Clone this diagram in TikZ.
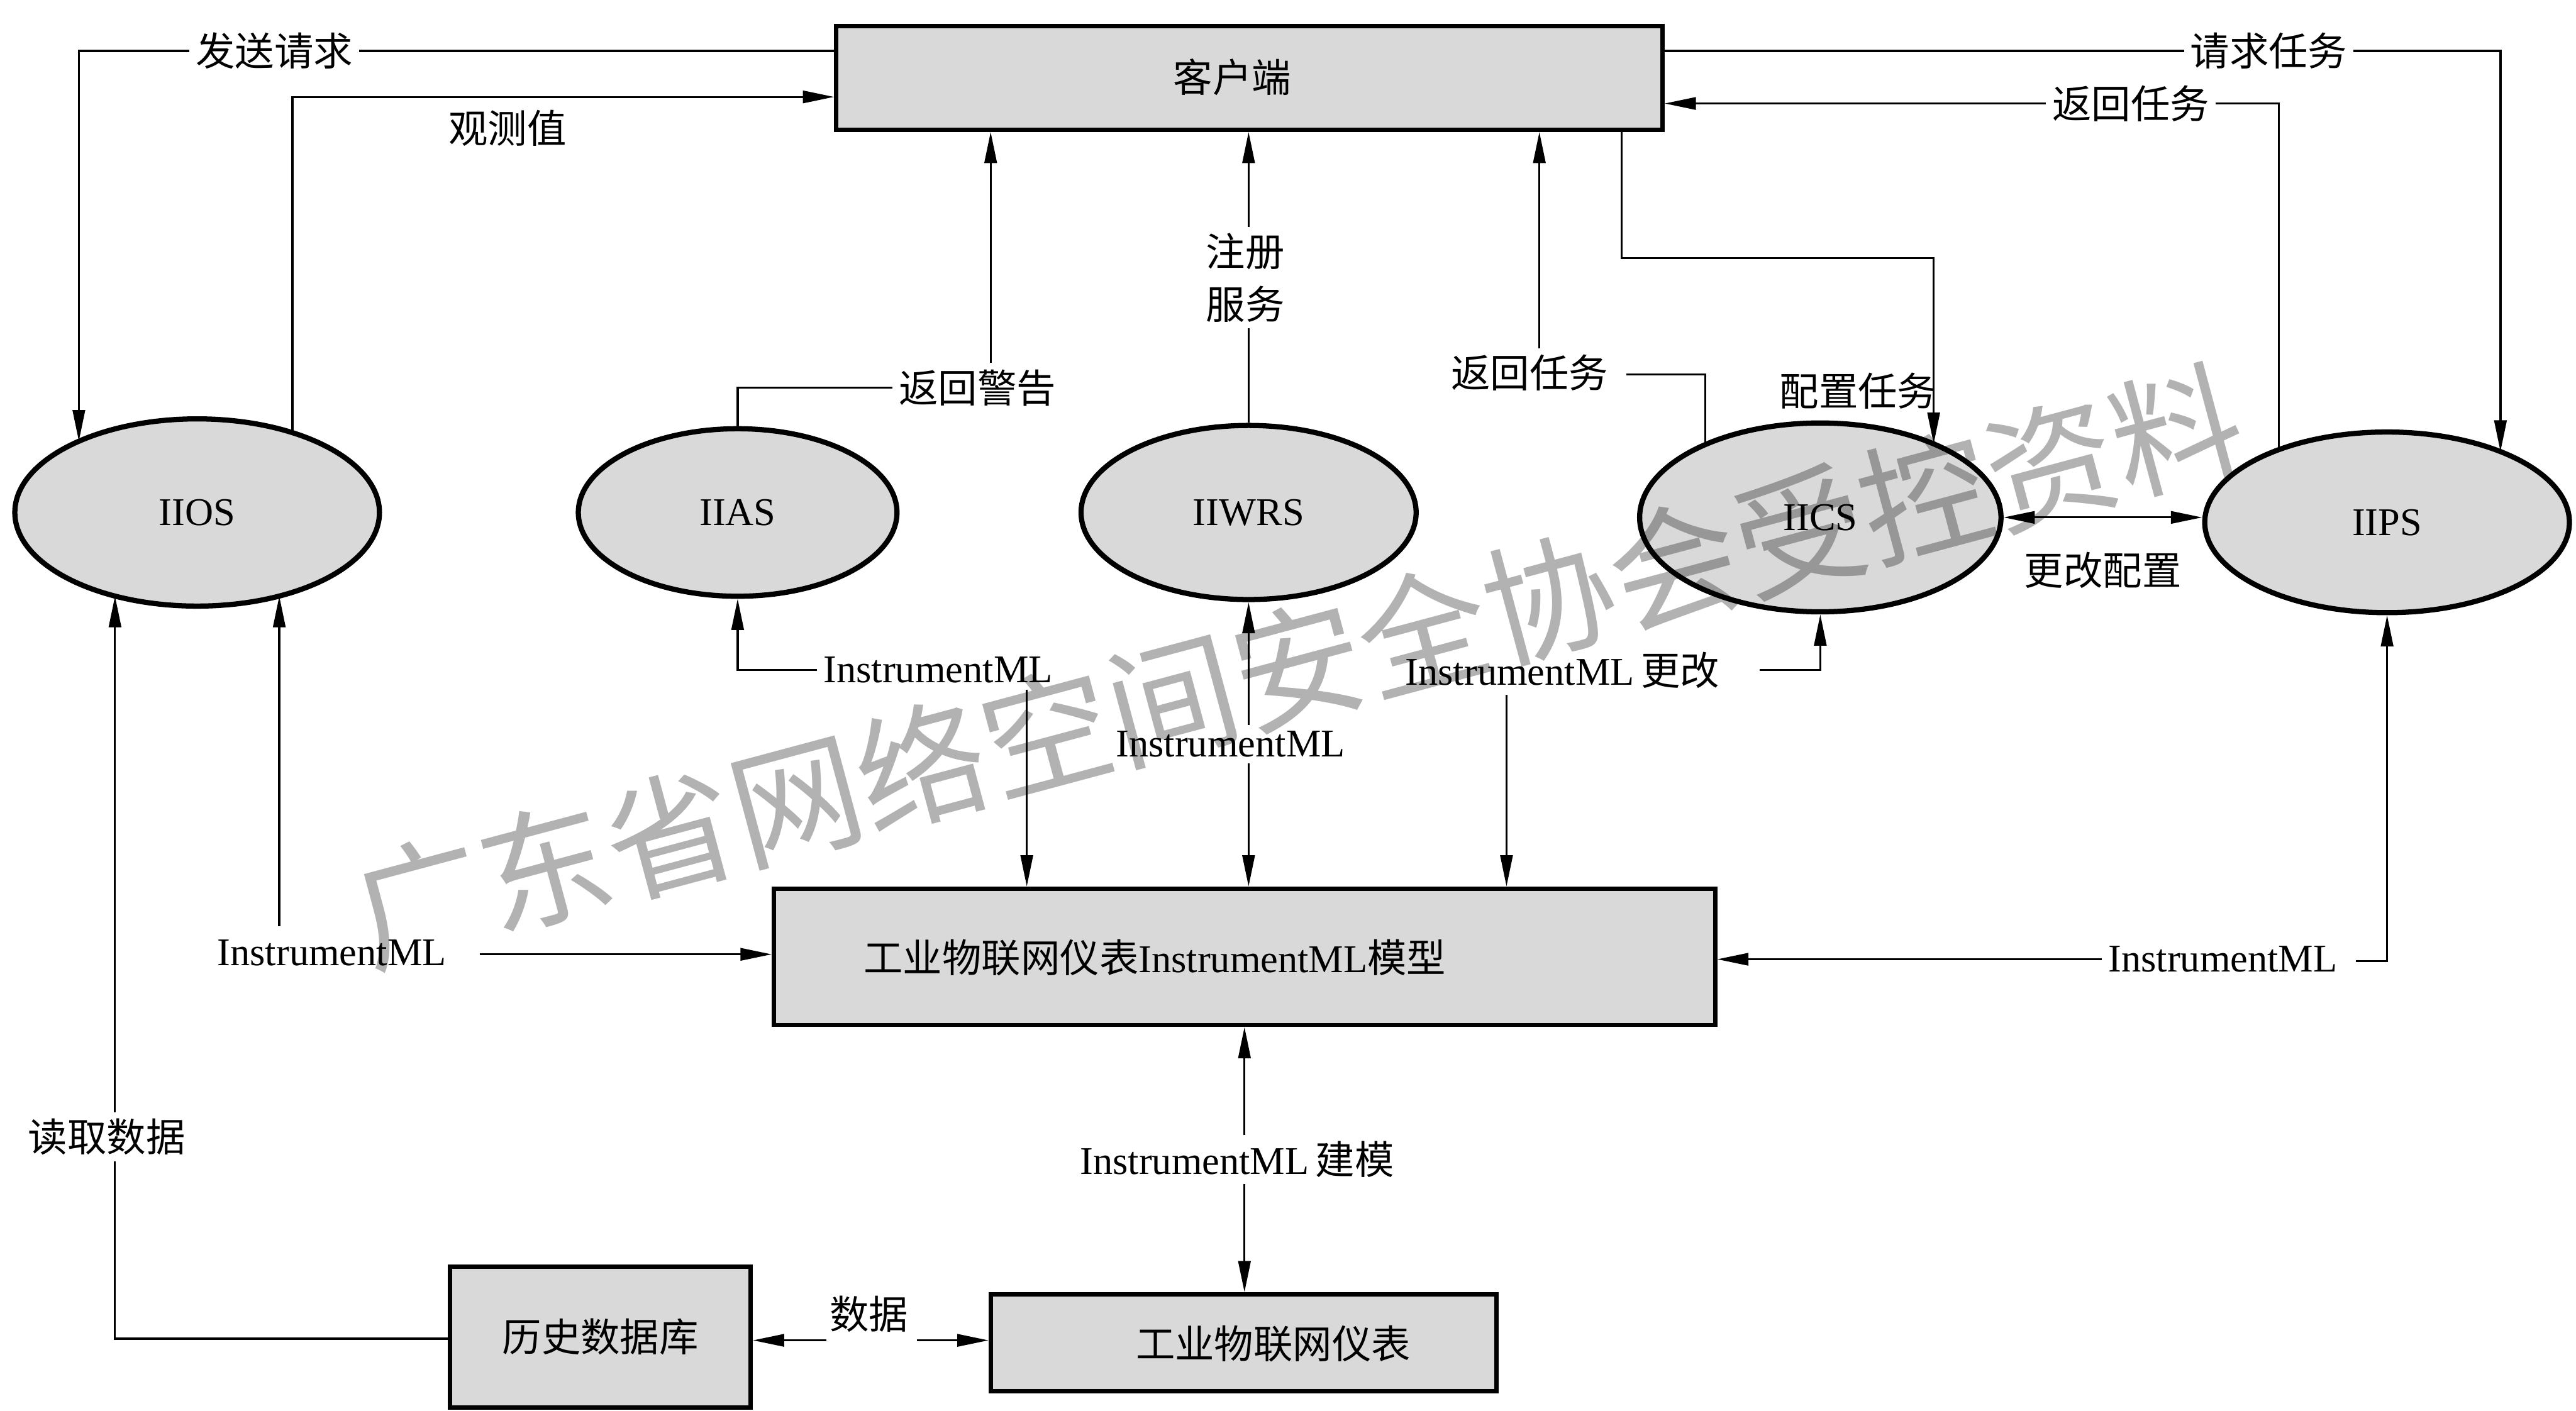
\documentclass[tikz,border=0pt]{standalone}
\usepackage{fontspec}
\setmainfont{Liberation Serif}
\newfontfamily\cjk{Noto Sans CJK SC}
\usetikzlibrary{shapes.geometric,arrows.meta,calc}
\begin{document}
\begin{tikzpicture}[x=0.02cm,y=-0.02cm,
  every node/.style={font=\fontsize{13.6}{18.2}\selectfont, inner sep=2pt},
  cjkf/.style={font=\fontsize{13.6}{18.2}\selectfont\cjk},
  boxnode/.style={draw, line width=1.5pt, fill=black!15, rectangle, inner sep=0pt},
  oval/.style={draw, ellipse, line width=1.8pt, fill=black!15, inner sep=0pt},
  conn/.style={line width=0.7pt},
  arr/.style={conn, -{Triangle[length=0.38cm,width=0.15cm]}},
  darr/.style={conn, {Triangle[length=0.38cm,width=0.15cm]}-{Triangle[length=0.38cm,width=0.15cm]}}
]
\useasboundingbox (0,0) rectangle (1568,859);

% boxes
\node[boxnode, minimum width=10.06cm, minimum height=1.26cm] (client) at (760.5,47.5) {};
\node[cjkf] (clienttxt) at (750,47) {客户端};
\node[boxnode, minimum width=11.46cm, minimum height=1.66cm] (model) at (757.5,582.5) {};
\node (modeltxt) at (703,583) {{\cjk 工业物联网仪表}InstrumentML{\cjk 模型}};
\node[boxnode, minimum width=6.16cm, minimum height=1.18cm] (meter) at (757,817.5) {};
\node[cjkf] (metertxt) at (775,818) {工业物联网仪表};
\node[boxnode, cjkf, minimum width=3.66cm, minimum height=1.72cm] (hist) at (365.5,814) {历史数据库};

% ellipses
\node[oval, minimum width=4.44cm, minimum height=2.28cm] (IIOS) at (120,312) {IIOS};
\node[oval, minimum width=3.88cm, minimum height=2.04cm] (IIAS) at (449,312) {IIAS};
\node[oval, minimum width=4.08cm, minimum height=2.12cm] (IIWRS) at (760,312) {IIWRS};
\node[oval, minimum width=4.4cm, minimum height=2.3cm] (IICS) at (1108,315) {IICS};
\node[oval, minimum width=4.44cm, minimum height=2.2cm] (IIPS) at (1453,318) {IIPS};

% labels
\node[cjkf] (fs) at (167,31) {发送请求};
\node[cjkf] (gc) at (309,78) {观测值};
\node[cjkf] (fj) at (595,236) {返回警告};
\node[cjkf, align=center] (zc) at (758,169) {注册\\服务};
\node[cjkf] (fr1) at (931,227) {返回任务};
\node[cjkf] (pz) at (1131,238) {配置任务};
\node[cjkf] (qq) at (1381,31) {请求任务};
\node[cjkf] (fr2) at (1297,63) {返回任务};
\node[cjkf] (gg) at (1280,347) {更改配置};
\node (im1) at (571,408) {InstrumentML};
\node (im2) at (749,453) {InstrumentML};
\node (im3) at (951,408) {InstrumentML\,{\cjk 更改}};
\node (im4) at (1353,584) {InstrumentML};
\node (im0) at (202,580) {InstrumentML};
\node[cjkf] (dq) at (65,692) {读取数据};
\node[cjkf] (sj) at (529,800) {数据};
\node (jm) at (753,706) {InstrumentML\,{\cjk 建模}};

% helper coordinates
\coordinate (a1) at (48,31);
\coordinate (a2) at (178,59);
\coordinate (a3) at (449,236);
\coordinate (x603) at (603,0);
\coordinate (a4) at (1038,228);
\coordinate (a4b) at (990,228);
\coordinate (x937) at (937,0);
\coordinate (x987) at (987,0);
\coordinate (a5) at (987,157);
\coordinate (a6) at (1177,157);
\coordinate (a7) at (1522,31);
\coordinate (a8) at (1387,63);
\coordinate (a9) at (449,408);
\coordinate (x625) at (625,0);
\coordinate (a10) at (1071,408);
\coordinate (a11) at (1108,408);
\coordinate (x917) at (917,0);
\coordinate (a12) at (1434,585);
\coordinate (a13) at (170,564);
\coordinate (a14) at (292,581);
\coordinate (a15) at (70,815);
\coordinate (x70) at (70,0);
\coordinate (a16) at (503,816);
\coordinate (a17) at (558,816);

% 发送请求
\draw[conn] (client.west |- fs) -- (fs.east);
\draw[arr] (fs.west) -- (a1) -- ($(IIOS.center)+(-72,-43.4)$);
% 观测值
\draw[arr] ($(IIOS.center)+(58,-48.6)$) -- (a2) -- (client.west |- a2);
% 返回警告
\draw[conn] (IIAS.north) -- (a3) -- (fj.west);
\draw[arr] (fj.north -| x603) -- (client.south -| x603);
% 注册服务
\draw[conn] (IIWRS.north) -- (IIWRS.north |- zc.south);
\draw[arr] (IIWRS.north |- zc.north) -- (IIWRS.north |- client.south);
% 返回任务 (IICS)
\draw[conn] ($(IICS.center)+(-70,-44.4)$) -- (a4) -- (a4b);
\draw[arr] (fr1.north -| x937) -- (client.south -| x937);
% 配置任务
\draw[arr] (client.south -| x987) -- (a5) -- (a6) -- ($(IICS.center)+(69,-44.8)$);
% 请求任务
\draw[conn] (client.east |- qq) -- (qq.west);
\draw[arr] (qq.east) -- (a7) -- ($(IIPS.center)+(69,-43.1)$);
% 返回任务 (IIPS)
\draw[conn] ($(IIPS.center)+(-66,-44.2)$) -- (a8) -- (fr2.east);
\draw[arr] (fr2.west) -- (client.east |- fr2);
% 更改配置
\draw[darr] (IICS.east) -- (IIPS.west |- IICS.east);
% InstrumentML -> IIAS / model
\draw[arr] (im1.west) -- (a9) -- (IIAS.south);
\draw[arr] (im1.south -| x625) -- (model.north -| x625);
% InstrumentML -> IIWRS / model
\draw[arr] (im2.north -| IIWRS.south) -- (IIWRS.south);
\draw[arr] (im2.south -| IIWRS.south) -- (model.north -| IIWRS.south);
% InstrumentML 更改
\draw[arr] (a10) -- (a11) -- (IICS.south);
\draw[arr] (im3.south -| x917) -- (model.north -| x917);
% InstrumentML -> IIPS / model
\draw[arr] (a12) -- (IIPS.south |- a12) -- (IIPS.south);
\draw[arr] (im4.west) -- (model.east |- im4);
% InstrumentML -> IIOS / model
\draw[arr] (a13) -- ($(IIOS.center)+(50,50.9)$);
\draw[arr] (a14) -- (model.west |- a14);
% 读取数据
\draw[conn] (hist.west |- a15) -- (a15) -- (dq.south -| x70);
\draw[arr] (dq.north -| x70) -- ($(IIOS.center)+(-50,50.9)$);
% 数据
\draw[arr] (a16) -- (hist.east |- a16);
\draw[arr] (a17) -- (meter.west |- a17);
% 建模
\draw[arr] (jm.north -| model.south) -- (model.south);
\draw[arr] (jm.south -| model.south) -- (meter.north -| model.south);

% watermark (multiplied over the drawing, so black lines and text stay visible)
\begin{scope}[blend mode=multiply]
\node[rotate=15, text=black!30, font=\fontsize{45}{45}\selectfont\cjk, inner sep=0pt] (wm) at (790,405) {广东省网络空间安全协会受控资料};
\end{scope}
\end{tikzpicture}
\end{document}
